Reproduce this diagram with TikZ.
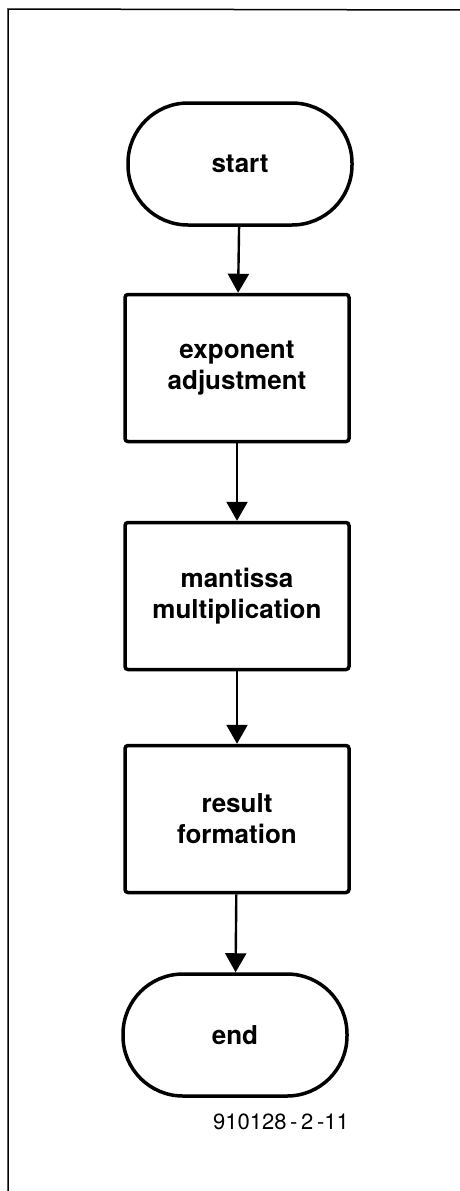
\documentclass[tikz,border=0pt]{standalone}
\usepackage{fontspec}
\setmainfont{TeX Gyre Heros}
\usepackage{tikz}
\usetikzlibrary{arrows.meta}

\tikzset{
  term/.style={draw, line width=3.5pt, rounded corners=60pt, minimum width=224pt,
    minimum height=122pt, font=\fontsize{26}{31}\selectfont\bfseries},
  stepbox/.style={draw, line width=3.5pt, rounded corners=3pt, minimum width=224pt,
    minimum height=147pt, align=center, font=\fontsize{26}{31}\selectfont\bfseries},
  flow/.style={line width=2.4pt, -{Triangle[width=21pt,length=19pt]}}
}

\begin{document}
\begin{tikzpicture}[x=1pt,y=-1pt]
\useasboundingbox (0,0) rectangle (460,1191);
% frame
\draw[line width=1.5pt] (8,1191) -- (8,9) -- (460,10);
% nodes
\node[term] (start) at (240,164) {start};
\node[stepbox] (expo) at (237,368) {exponent\\adjustment};
\node[stepbox] (mant) at (237,596) {mantissa\\multiplication};
\node[stepbox] (res) at (237,819) {result\\formation};
\node[term] (stop) at (235,1035) {end};
\node[font=\fontsize{22}{26}\selectfont] (fig) at (281,1122) {910128\,-\,2\,-11};
% arrows
\draw[flow] (start) -- (expo);
\draw[flow] (expo) -- (mant);
\draw[flow] (mant) -- (res);
\draw[flow] (res) -- (stop);
\end{tikzpicture}
\end{document}
